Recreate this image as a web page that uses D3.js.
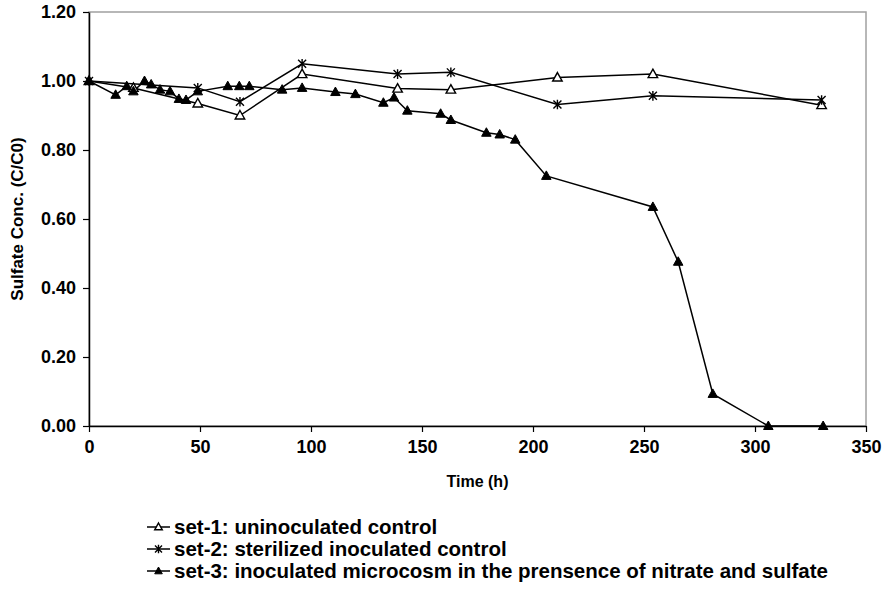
<!DOCTYPE html>
<html>
<head>
<meta charset="utf-8">
<script src="https://cdn.jsdelivr.net/npm/d3@7/dist/d3.min.js"></script>
<style>
  html, body { margin: 0; padding: 0; background: #fff; }
  svg { display: block; font-family: "Liberation Sans", Arial, sans-serif; font-weight: bold; }
</style>
</head>
<body>
<svg id="chart" width="885" height="592"></svg>
<script>
// Sulfate concentration (C/C0) over time for the three microcosm sets
const set1Time = [0, 20, 49, 68, 96, 139, 163, 211, 254, 330];
const set1Conc = [1.00, 0.98, 0.935, 0.90, 1.02, 0.978, 0.975, 1.01, 1.02, 0.93];

const set2Time = [0, 49, 68, 96, 139, 163, 211, 254, 330];
const set2Conc = [1.00, 0.98, 0.94, 1.05, 1.02, 1.025, 0.932, 0.957, 0.945];

const set3Time = [0, 12, 17, 20, 25, 28, 32, 36.5, 40.5, 43.7, 49, 62.5, 67.7, 72.2, 87, 96,
                  111, 120, 132.6, 137.4, 143.4, 158.4, 163, 179, 185, 192, 206, 254, 265.4, 281, 306, 330.7];
const set3Conc = [1.00, 0.96, 0.985, 0.97, 1.00, 0.99, 0.975, 0.97, 0.948, 0.945, 0.97, 0.985, 0.985, 0.985, 0.975, 0.98,
                  0.968, 0.962, 0.937, 0.952, 0.914, 0.905, 0.887, 0.85, 0.845, 0.83, 0.725, 0.635, 0.476, 0.093, 0.00, 0.00];

const xTicks = [0, 50, 100, 150, 200, 250, 300, 350];
const yTicks = [0.00, 0.20, 0.40, 0.60, 0.80, 1.00, 1.20];

const seriesNames = [
  "set-1: uninoculated control",
  "set-2: sterilized inoculated control",
  "set-3: inoculated microcosm in the prensence of nitrate and sulfate"
];

const svg = d3.select("#chart");
const plot = { left: 89, top: 12, right: 866, bottom: 426 };

const x = d3.scaleLinear().domain([0, 350]).range([plot.left, plot.right]);
const y = d3.scaleLinear().domain([0, 1.2]).range([plot.bottom, plot.top]);

// plot-area frame (grey, Excel style)
svg.append("rect")
  .attr("x", plot.left).attr("y", plot.top)
  .attr("width", plot.right - plot.left).attr("height", plot.bottom - plot.top)
  .attr("fill", "none").attr("stroke", "#a0a0a0").attr("stroke-width", 1.5);

// axes
const xAxis = svg.append("g")
  .attr("transform", `translate(0,${plot.bottom})`)
  .call(d3.axisBottom(x).tickValues(xTicks).tickSize(6).tickSizeOuter(0).tickFormat(d3.format("d")));
const yAxis = svg.append("g")
  .attr("transform", `translate(${plot.left},0)`)
  .call(d3.axisLeft(y).tickValues(yTicks).tickSize(6).tickSizeOuter(0).tickFormat(d3.format(".2f")));

[xAxis, yAxis].forEach(g => {
  g.select(".domain").attr("stroke", "#000").attr("stroke-width", 1.5);
  g.selectAll(".tick line").attr("stroke", "#000").attr("stroke-width", 1.2);
  g.selectAll(".tick text").attr("fill", "#000").style("font-size", "18px")
    .style("font-family", '"Liberation Sans", Arial, sans-serif').style("font-weight", "bold");
});
xAxis.selectAll(".tick text").attr("y", 14).attr("dy", "0.71em");
yAxis.selectAll(".tick text").attr("x", -13);

// axis titles
svg.append("text")
  .attr("x", (plot.left + plot.right) / 2).attr("y", 487)
  .attr("text-anchor", "middle").style("font-size", "16px").text("Time (h)");
svg.append("text")
  .attr("transform", `translate(23,${(plot.top + plot.bottom) / 2}) rotate(-90)`)
  .attr("text-anchor", "middle").style("font-size", "17px").text("Sulfate Conc. (C/C0)");

// marker shapes
const triPath = s => `M0,${-s}L${s * 0.95},${s * 0.7}L${-s * 0.95},${s * 0.7}Z`;
function drawMarker(g, kind, size) {
  if (kind === "open") {
    g.append("path").attr("d", triPath(size)).attr("fill", "#fff").attr("stroke", "#000").attr("stroke-width", 1.4);
  } else if (kind === "filled") {
    g.append("path").attr("d", triPath(size)).attr("fill", "#000").attr("stroke", "#000").attr("stroke-width", 1);
  } else {
    const s = size;
    g.append("path")
      .attr("d", `M${-s},${-s}L${s},${s}M${-s},${s}L${s},${-s}M0,${-s * 1.2}L0,${s * 1.2}`)
      .attr("stroke", "#000").attr("stroke-width", 1.4).attr("fill", "none");
  }
}

const series = [
  { t: set1Time, c: set1Conc, kind: "open" },
  { t: set2Time, c: set2Conc, kind: "star" },
  { t: set3Time, c: set3Conc, kind: "filled" }
];

const line = d3.line().x(d => x(d[0])).y(d => y(d[1]));

series.forEach(s => {
  const pts = s.t.map((t, i) => [t, s.c[i]]);
  svg.append("path").datum(pts).attr("d", line)
    .attr("fill", "none").attr("stroke", "#000").attr("stroke-width", 1.5);
});
series.forEach(s => {
  s.t.forEach((t, i) => {
    const g = svg.append("g").attr("transform", `translate(${x(t)},${y(s.c[i])})`);
    drawMarker(g, s.kind, s.kind === "star" ? 4 : 5);
  });
});

// legend
const legend = svg.append("g");
seriesNames.forEach((name, i) => {
  const ly = 527 + i * 22;
  const row = legend.append("g").attr("transform", `translate(0,${ly})`);
  row.append("line").attr("x1", 147).attr("x2", 170).attr("y1", 0).attr("y2", 0)
    .attr("stroke", "#000").attr("stroke-width", 1.5);
  const m = row.append("g").attr("transform", "translate(158.5,0)");
  drawMarker(m, series[i].kind, series[i].kind === "star" ? 3.5 : 4);
  row.append("text").attr("x", 174).attr("y", 7).style("font-size", "20.5px").text(name);
});
</script>
</body>
</html>
